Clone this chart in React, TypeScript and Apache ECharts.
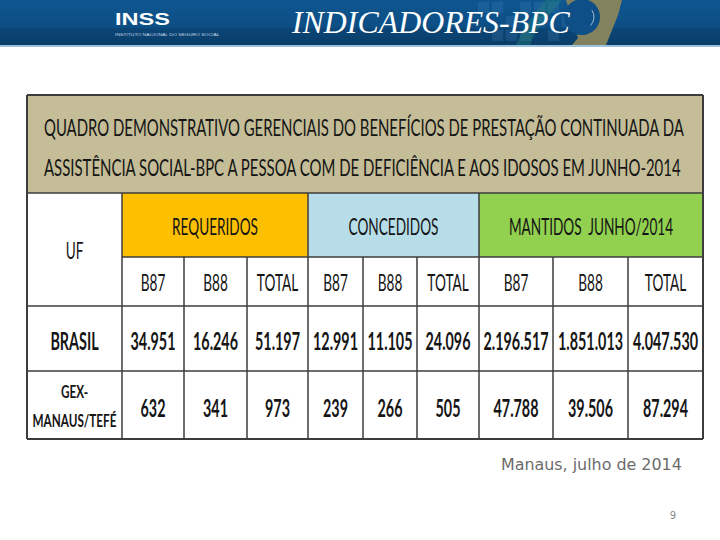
import React, { useEffect, useRef } from "react";
import * as echarts from "echarts";

// ---- content ----
const headerTitle = "INDICADORES-BPC";
const logoText = "INSS";
const logoSub = "INSTITUTO NACIONAL DO SEGURO SOCIAL";
const titleLines = [
  "QUADRO DEMONSTRATIVO GERENCIAIS DO BENEFÍCIOS DE PRESTAÇÃO CONTINUADA DA",
  "ASSISTÊNCIA SOCIAL-BPC A PESSOA COM DE DEFICIÊNCIA E AOS IDOSOS EM JUNHO-2014",
];
const ufLabel = "UF";
const groups = ["REQUERIDOS", "CONCEDIDOS", "MANTIDOS  JUNHO/2014"];
const subCols = ["B87", "B88", "TOTAL"];
const rowLabels = [["BRASIL"], ["GEX-", "MANAUS/TEFÉ"]];
const brasilValues = [34951, 16246, 51197, 12991, 11105, 24096, 2196517, 1851013, 4047530];
const gexValues = [632, 341, 973, 239, 266, 505, 47788, 39506, 87294];
const footerText = "Manaus, julho de 2014";
const pageNumber = "9";

// ---- layout ----
const colX = [27, 122, 184, 247, 308, 363, 417, 479, 553, 628, 703];
const rowY = [95, 193, 257, 306, 371, 439];
const groupFills = ["#fdc000", "#b7dee8", "#92d050"];
const SANS = "Lato, 'Open Sans', sans-serif";

function fmt(n: number): string {
  const s = String(n);
  let out = "";
  for (let i = 0; i < s.length; i++) {
    const fromEnd = s.length - i;
    out += s[i];
    if (fromEnd > 1 && (fromEnd - 1) % 3 === 0) out += ".";
  }
  return out;
}

let ctx: CanvasRenderingContext2D | null = null;
function measure(text: string, size: number, weight: string, family: string, style = "normal"): number {
  if (!ctx) ctx = document.createElement("canvas").getContext("2d");
  if (!ctx) return text.length * size * 0.55;
  ctx.font = `${style} ${weight} ${size}px ${family}`;
  return ctx.measureText(text).width;
}

function txt(
  text: string,
  x: number,
  y: number,
  size: number,
  weight: string,
  family: string,
  fill: string,
  sx: number,
  align: string = "center",
  fontStyle: string = "normal"
): any {
  return {
    type: "group",
    x,
    y,
    scaleX: sx,
    children: [
      {
        type: "text",
        style: {
          text,
          x: 0,
          y: 0,
          align,
          verticalAlign: "middle",
          fontSize: size,
          fontWeight: weight,
          fontFamily: family,
          fontStyle,
          fill,
        },
      },
    ],
  };
}

function fitTxt(text: string, x: number, y: number, size: number, weight: string, family: string, fill: string, width: number, align = "center", fontStyle = "normal") {
  const w = measure(text, size, weight, family, fontStyle);
  return txt(text, x, y, size, weight, family, fill, w > 0 ? width / w : 1, align, fontStyle);
}

function buildGraphics(): any[] {
  const g: any[] = [];
  // header band
  g.push({ type: "rect", shape: { x: 0, y: 0, width: 720, height: 28 }, style: { fill: new echarts.graphic.LinearGradient(0, 0, 0, 1, [{ offset: 0, color: "#0f5690" }, { offset: 1, color: "#0c4e84" }]) } });
  g.push({ type: "rect", shape: { x: 0, y: 28, width: 720, height: 17 }, style: { fill: new echarts.graphic.LinearGradient(0, 0, 0, 1, [{ offset: 0, color: "#0b4677" }, { offset: 1, color: "#093d69" }]) } });
  // decorative squares
  const sq: number[][] = [[478, 2], [492, 2], [506, 16], [520, 2], [534, 16], [492, 30], [520, 30], [548, 2], [548, 30], [506, 30], [534, 2], [562, 16]];
  sq.forEach(([x, y]) => g.push({ type: "rect", shape: { x, y, width: 11, height: 11 }, style: { fill: "rgba(90,150,205,0.18)" } }));
  // teal crescent
  g.push({ type: "polygon", shape: { points: [[546, 0], [562, 0], [548, 16], [536, 32], [530, 45], [516, 45], [524, 28], [536, 12]] }, style: { fill: "rgba(40,140,120,0.35)" } });
  // khaki crescent
  g.push({ type: "polygon", shape: { points: [[566, 0], [622, 0], [618, 15], [612, 30], [606, 45], [572, 45], [578, 38]] }, style: { fill: "#83825f" } });
  g.push({ type: "circle", shape: { cx: 582, cy: 17, r: 18 }, style: { fill: "#0d4f86" } });
  g.push({ type: "arc", shape: { cx: 582, cy: 17, r: 12, startAngle: -0.6, endAngle: 0.8 }, style: { stroke: "rgba(255,255,255,0.6)", lineWidth: 1, fill: "none" } });
  // bottom line
  g.push({ type: "rect", shape: { x: 0, y: 45, width: 720, height: 2 }, style: { fill: "#9cc2dc" } });

  // logo and title
  g.push(fitTxt(logoText, 115, 19, 17, "bold", "'Liberation Sans', Arial, sans-serif", "#ffffff", 55, "left"));
  g.push(fitTxt(logoSub, 115, 35, 4, "normal", "'Liberation Sans', Arial, sans-serif", "#c9d8e6", 105, "left"));
  g.push(fitTxt(headerTitle, 292, 22, 32, "normal", "'Liberation Serif', 'Times New Roman', serif", "#ffffff", 278, "left", "italic"));

  // table fills
  const L = colX[0], R = colX[colX.length - 1];
  g.push({ type: "rect", shape: { x: L, y: rowY[0], width: R - L, height: rowY[1] - rowY[0] }, style: { fill: "#c4bd97" } });
  g.push({ type: "rect", shape: { x: L, y: rowY[1], width: R - L, height: rowY[5] - rowY[1] }, style: { fill: "#ffffff" } });
  for (let i = 0; i < 3; i++) {
    const x0 = colX[1 + i * 3], x1 = colX[4 + i * 3];
    g.push({ type: "rect", shape: { x: x0, y: rowY[1], width: x1 - x0, height: rowY[2] - rowY[1] }, style: { fill: groupFills[i] } });
  }

  // grid lines
  const stroke = "#3c3c3c";
  const line = (x1: number, y1: number, x2: number, y2: number, w = 1.5) =>
    g.push({ type: "line", shape: { x1, y1, x2, y2 }, style: { stroke, lineWidth: w } });
  line(L, rowY[0], R, rowY[0], 2);
  line(L, rowY[1], R, rowY[1]);
  line(colX[1], rowY[2], R, rowY[2]);
  line(L, rowY[3], R, rowY[3]);
  line(L, rowY[4], R, rowY[4]);
  line(L, rowY[5], R, rowY[5], 2);
  line(L, rowY[0], L, rowY[5], 2);
  line(R, rowY[0], R, rowY[5], 2);
  [1, 4, 7].forEach((i) => line(colX[i], rowY[1], colX[i], rowY[5]));
  [2, 3, 5, 6, 8, 9].forEach((i) => line(colX[i], rowY[2], colX[i], rowY[5]));

  const ink = "#151515";
  // title lines
  g.push(fitTxt(titleLines[0], 44, 127, 23, "normal", SANS, ink, 641, "left"));
  g.push(fitTxt(titleLines[1], 44, 167, 23, "normal", SANS, ink, 641, "left"));

  const regScale = 86 / measure(groups[0], 23, "normal", SANS);
  const boldScale = 45 / measure(fmt(brasilValues[0]), 24, "bold", SANS);
  const cx = (a: number, b: number) => (colX[a] + colX[b]) / 2;

  g.push(txt(ufLabel, cx(0, 1), 250, 23, "normal", SANS, ink, regScale));
  groups.forEach((name, i) => {
    g.push(txt(name, cx(1 + i * 3, 4 + i * 3), 226, 23, "normal", SANS, ink, regScale));
    subCols.forEach((s, j) => {
      const c = 1 + i * 3 + j;
      g.push(txt(s, cx(c, c + 1), 282, 23, "normal", SANS, ink, regScale));
    });
  });

  // rows
  g.push(txt(rowLabels[0][0], cx(0, 1), 340, 24, "bold", SANS, ink, boldScale));
  const gexScale = 84 / measure(rowLabels[1][1], 17, "bold", SANS);
  g.push(txt(rowLabels[1][0], cx(0, 1), 392, 17, "bold", SANS, ink, gexScale));
  g.push(txt(rowLabels[1][1], cx(0, 1), 421, 17, "bold", SANS, ink, gexScale));
  brasilValues.forEach((v, j) => g.push(txt(fmt(v), cx(1 + j, 2 + j), 340, 24, "bold", SANS, ink, boldScale)));
  gexValues.forEach((v, j) => g.push(txt(fmt(v), cx(1 + j, 2 + j), 407, 24, "bold", SANS, ink, boldScale)));

  // footer
  g.push(fitTxt(footerText, 501, 464, 16, "normal", "'DejaVu Sans', Verdana, sans-serif", "#6b6b6b", 181, "left"));
  g.push(txt(pageNumber, 673, 515, 10, "normal", "'DejaVu Sans', Verdana, sans-serif", "#8a8a8a", 1));
  return g;
}

export default function App() {
  const ref = useRef<HTMLDivElement>(null);
  useEffect(() => {
    if (!ref.current) return;
    const chart = echarts.init(ref.current, undefined, { renderer: "svg" });
    chart.setOption({
      animation: false,
      backgroundColor: "#ffffff",
      graphic: { elements: buildGraphics() },
    });
    return () => chart.dispose();
  }, []);
  return <div ref={ref} style={{ position: "fixed", left: 0, top: 0, width: 720, height: 540 }} />;
}
